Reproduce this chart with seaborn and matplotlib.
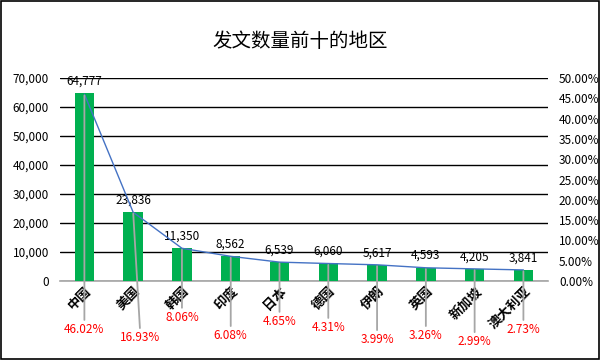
import matplotlib
matplotlib.use("Agg")
import matplotlib.pyplot as plt
import seaborn as sns
import numpy as np
import pandas as pd
from matplotlib.ticker import FuncFormatter, MultipleLocator
from matplotlib.patches import Rectangle

# ---- data ----
regions = ["中国", "美国", "韩国", "印度", "日本", "德国", "伊朗", "英国", "新加坡", "澳大利亚"]
counts = [64777, 23836, 11350, 8562, 6539, 6060, 5617, 4593, 4205, 3841]
shares = [46.02, 16.93, 8.06, 6.08, 4.65, 4.31, 3.99, 3.26, 2.99, 2.73]
title = "发文数量前十的地区"

# layout of the red percentage labels (axes-fraction y, x offset in category units)
pct_label_y = [-0.24, -0.28, -0.18, -0.27, -0.20, -0.23, -0.29, -0.27, -0.30, -0.24]
pct_label_dx = [0, 0.15, 0, 0, 0, 0, 0, 0, 0, 0]

sns.set_theme(style="white")
plt.rcParams['font.family'] = ['Noto Sans CJK SC', 'DejaVu Sans']

df = pd.DataFrame({"region": regions, "count": counts, "share": shares})
df["pos"] = np.arange(len(df))

fig = plt.figure(figsize=(6, 3.6), dpi=100)
ax = fig.add_axes([0.10, 0.2194, 0.813, 0.5639])

sns.barplot(data=df, x="region", y="count", color="#00B050", width=0.4,
            saturation=1, ax=ax, zorder=3, edgecolor="none", linewidth=0)
ax.set_ylim(0, 70000)
ax.set_xlim(-0.5, len(df) - 0.5)
ax.yaxis.set_major_locator(MultipleLocator(10000))
ax.yaxis.set_major_formatter(FuncFormatter(lambda v, p: f"{int(v):,}"))
ax.grid(axis="y", color="black", linewidth=1.0, zorder=0)
ax.set_axisbelow(True)
for s in ["top", "right", "left"]:
    ax.spines[s].set_visible(False)
ax.spines["bottom"].set_color("#A6A6A6")
ax.spines["bottom"].set_linewidth(1.2)
ax.set_xlabel("")
ax.set_ylabel("")
ax.tick_params(axis="y", length=0, labelsize=8.5, colors="black", pad=8)
ax.tick_params(axis="x", length=0, pad=2)
ax.set_xticks(df["pos"])
ax.set_xticklabels(regions, rotation=45, ha="right", va="top",
                   rotation_mode="anchor", fontsize=9.5, fontweight="bold", color="black")

# value labels
for i, v in enumerate(counts):
    ax.annotate(f"{v:,}", xy=(i, v), xytext=(0, 4), textcoords="offset points",
                ha="center", va="bottom", fontsize=8.5, color="black", zorder=5)

# percentage axis
ax2 = ax.twinx()
sns.lineplot(data=df, x="pos", y="share", color="#4472C4", linewidth=1.0, ax=ax2, zorder=4)
ax2.set_ylim(0, 50)
ax2.set_xlim(-0.5, len(df) - 0.5)
ax2.yaxis.set_major_locator(MultipleLocator(5))
ax2.yaxis.set_major_formatter(FuncFormatter(lambda v, p: f"{v:.2f}%"))
ax2.tick_params(axis="y", length=0, labelsize=8.5, colors="black", pad=8)
for s in ["top", "right", "left", "bottom"]:
    ax2.spines[s].set_visible(False)
ax2.set_xlabel("")
ax2.set_ylabel("")
ax2.grid(False)

# red percentage labels with leader lines
for i, (p, ly, dx) in enumerate(zip(shares, pct_label_y, pct_label_dx)):
    ax2.annotate(f"{p:.2f}%", xy=(i, p), xycoords="data",
                 xytext=(i + dx, ly), textcoords=ax2.get_xaxis_transform(),
                 ha="center", va="center", fontsize=8.5, color="#FF0000",
                 annotation_clip=False, zorder=6,
                 arrowprops=dict(arrowstyle="-", color="#A6A6A6", lw=1.3,
                                 shrinkA=0, shrinkB=1))

fig.text(0.5, 0.885, title, ha="center", va="center", fontsize=14, color="black")
fig.patches.append(Rectangle((0.002, 0.003), 0.996, 0.994, transform=fig.transFigure,
                             fill=False, edgecolor="black", linewidth=1.2))

fig.savefig("out.png", dpi=100)
